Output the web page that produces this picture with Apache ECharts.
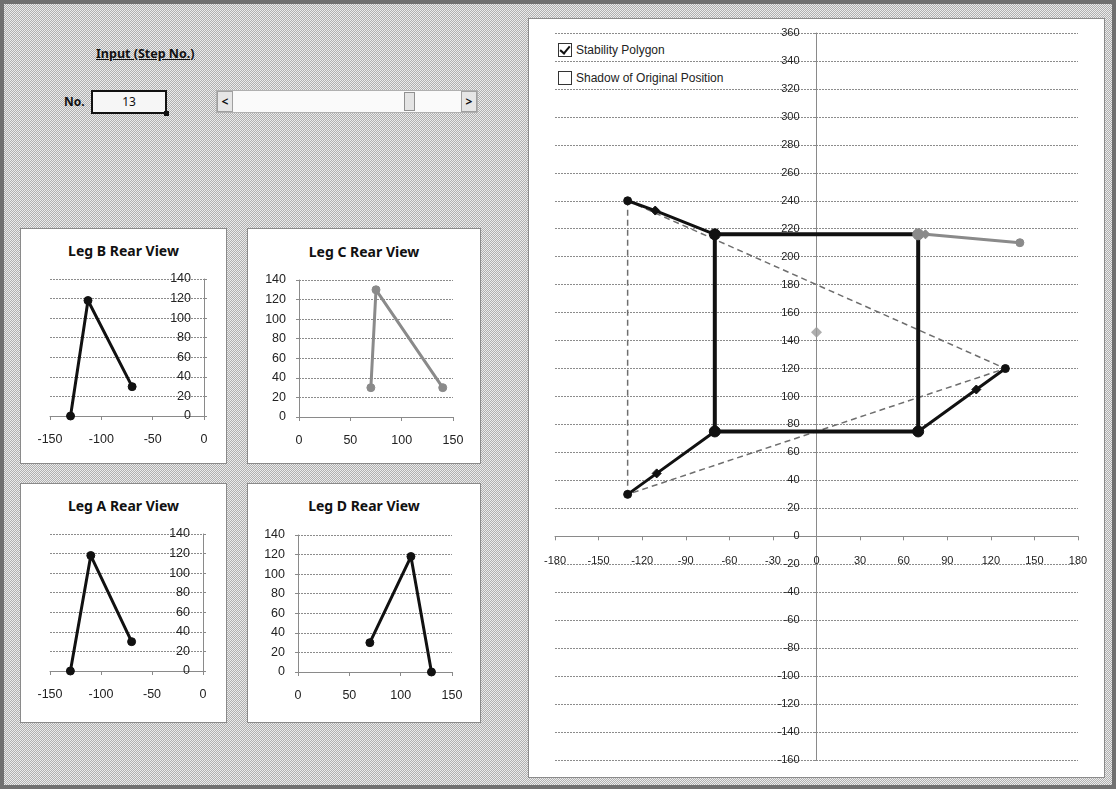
<!DOCTYPE html>
<html>
<head>
<meta charset="utf-8">
<script src="https://cdn.jsdelivr.net/npm/echarts@6/dist/echarts.min.js"></script>
<style>
html,body{margin:0;padding:0;width:1116px;height:789px;overflow:hidden;}
body{position:relative;background:repeating-conic-gradient(#b0b0b0 0 25%,#ebebeb 0 50%) 0 0/2px 2px;font-family:"Noto Sans","Liberation Sans",sans-serif;}
#frame{position:absolute;left:0;top:0;width:1108px;height:781px;border:4px solid #707070;}
.panel{position:absolute;background:#fff;border:1px solid #8a8a8a;box-sizing:border-box;}
.title{position:absolute;text-align:center;font-weight:bold;font-size:14px;color:#111;line-height:18px;}
#hdr{position:absolute;left:96px;top:45px;font-weight:bold;font-size:12.5px;text-decoration:underline;color:#111;}
#no{position:absolute;left:64px;top:93px;font-weight:bold;font-size:12px;color:#111;}
#cell{position:absolute;left:91px;top:90px;width:76px;height:24px;box-sizing:border-box;border:2px solid #111;background:#f6f6f6;text-align:center;font-size:12px;line-height:20px;color:#111;}
#handle{position:absolute;left:164px;top:111px;width:5px;height:5px;background:#111;}
#sb{position:absolute;left:216px;top:90px;width:262px;height:23px;background:#fafafa;border:1px solid #b0b0b0;box-sizing:border-box;}
.sbbtn{position:absolute;top:0;width:16px;height:21px;background:#e6e6e6;border:1px solid #a0a0a0;box-sizing:border-box;font-weight:bold;font-size:12px;line-height:19px;text-align:center;color:#111;}
#thumb{position:absolute;left:187px;top:1px;width:11px;height:19px;background:#e4e4e4;border:1px solid #909090;box-sizing:border-box;}
.cb{position:absolute;left:558px;width:14px;height:14px;border:1px solid #333;background:#fff;box-sizing:border-box;}
.cbl{position:absolute;left:576px;font-family:"Liberation Sans",Arial,sans-serif;font-size:12px;color:#222;line-height:14px;}
#tick{position:absolute;left:3px;top:0px;width:4px;height:8px;border-right:2px solid #111;border-bottom:2px solid #111;transform:rotate(40deg);}
#chart{position:absolute;left:0;top:0;width:1116px;height:789px;}
</style>
</head>
<body>
<div id="frame"></div>
<div class="panel" style="left:20px;top:228px;width:207px;height:236px"></div>
<div class="panel" style="left:247px;top:228px;width:234px;height:236px"></div>
<div class="panel" style="left:20px;top:483px;width:207px;height:240px"></div>
<div class="panel" style="left:247px;top:483px;width:234px;height:240px"></div>
<div class="panel" style="left:528px;top:18px;width:577px;height:760px"></div>

<div class="title" style="left:20px;width:207px;top:242px">Leg B Rear View</div>
<div class="title" style="left:247px;width:234px;top:243px">Leg C Rear View</div>
<div class="title" style="left:20px;width:207px;top:497px">Leg A Rear View</div>
<div class="title" style="left:247px;width:234px;top:497px">Leg D Rear View</div>

<div id="hdr">Input (Step No.)</div>
<div id="no">No.</div>
<div id="cell">13</div>
<div id="handle"></div>
<div id="sb">
  <div class="sbbtn" style="left:0">&lt;</div>
  <div id="thumb"></div>
  <div class="sbbtn" style="right:0">&gt;</div>
</div>

<div class="cb" style="top:43px"><div id="tick"></div></div>
<div class="cbl" style="top:43px">Stability Polygon</div>
<div class="cb" style="top:71px"></div>
<div class="cbl" style="top:71px">Shadow of Original Position</div>

<div id="chart"></div>
<script>
// ---------- Top view (x, y) ----------
const bodyX = [-70, 70, 70, -70, -70];
const bodyY = [216, 216, 75, 75, 216];
const topLegAX = [-70, -110, -130];
const topLegAY = [75, 45, 30];
const topLegBX = [-70, -111, -130];
const topLegBY = [216, 233, 240];
const topLegCX = [70, 75, 140];
const topLegCY = [216, 216, 210];
const topLegDX = [70, 110, 130];
const topLegDY = [75, 105, 120];
const polygonX = [-130, 130, -130, -130];
const polygonY = [240, 120, 30, 240];
const cogX = [0];
const cogY = [146];

// ---------- Rear views (x, z) ----------
const rearAX = [-70, -110, -130];
const rearAZ = [30, 118, 0];
const rearBX = [-70, -113, -130];
const rearBZ = [30, 118, 0];
const rearCX = [70, 75, 140];
const rearCZ = [30, 130, 30];
const rearDX = [70, 110, 130];
const rearDZ = [30, 118, 0];

// ---------- Axis ranges [min, max, interval] ----------
const bigXRange = [-180, 180, 30];
const bigYRange = [-160, 360, 20];
const leftLegXRange = [-150, 0, 50];
const rightLegXRange = [0, 150, 50];
const rearZRange = [0, 140, 20];

const zip = (xs, ys) => xs.map((x, i) => [x, ys[i]]);

const chart = echarts.init(document.getElementById('chart'), null, {renderer: 'canvas'});

const grids = [
  {left: 555, top: 33, width: 523, height: 727},   // big top view
  {left: 50, top: 279, width: 154, height: 137},   // Leg B
  {left: 299, top: 280, width: 154, height: 137},  // Leg C
  {left: 50, top: 534, width: 153, height: 137},   // Leg A
  {left: 298, top: 535, width: 154, height: 137}   // Leg D
].map(g => Object.assign({containLabel: false, outerBoundsMode: 'none', show: false}, g));

// pixel offset that places an axis on the zero of the crossing axis
const zeroOffset = (r, size) => -((0 - r[0]) / (r[1] - r[0])) * size;

const gridLine = {show: true, lineStyle: {color: '#8c8c8c', width: 1, type: [2, 1]}};
const axisLineStyle = {color: '#8a8a8a', width: 1};
const labelFont = 'Liberation Sans, Arial, sans-serif';

function xAxis(gi, r, fs, margin, offset) {
  return {
    type: 'value', gridIndex: gi, min: r[0], max: r[1], interval: r[2],
    position: 'bottom', offset: offset || 0,
    axisLine: {show: true, onZero: false, lineStyle: axisLineStyle},
    axisTick: {show: true, length: 4, lineStyle: axisLineStyle},
    splitLine: {show: false},
    axisLabel: {fontSize: fs, color: '#222', margin: margin, showMinLabel: true, showMaxLabel: true,
      hideOverlap: false, fontFamily: labelFont}
  };
}
function yAxis(gi, r, fs, margin, position, inside, offset) {
  return {
    type: 'value', gridIndex: gi, min: r[0], max: r[1], interval: r[2],
    position: position, offset: offset || 0,
    axisLine: {show: true, onZero: false, lineStyle: axisLineStyle},
    axisTick: {show: true, length: 3, lineStyle: axisLineStyle},
    splitLine: gridLine,
    axisLabel: {fontSize: fs, color: '#222', margin: margin, inside: !!inside, showMinLabel: true, showMaxLabel: true,
      hideOverlap: false, fontFamily: labelFont}
  };
}

const jointSymbols = ['circle', 'diamond', 'circle'];
const jointSizes = [11, 9, 8];

function legTop(xs, ys, color) {
  return {
    type: 'line', xAxisIndex: 0, yAxisIndex: 0, z: 4,
    data: zip(xs, ys).map((p, i) => ({value: p, symbol: jointSymbols[i], symbolSize: jointSizes[i]})),
    lineStyle: {color: color, width: 3},
    itemStyle: {color: color, borderColor: color},
    showSymbol: true, silent: true
  };
}
function legRear(gi, xs, zs, color) {
  return {
    type: 'line', xAxisIndex: gi, yAxisIndex: gi, z: 4,
    data: zip(xs, zs), symbol: 'circle', symbolSize: 8,
    lineStyle: {color: color, width: 3},
    itemStyle: {color: color, borderColor: color},
    silent: true
  };
}

const option = {
  animation: false,
  backgroundColor: 'transparent',
  grid: grids,
  xAxis: [
    xAxis(0, bigXRange, 11, 19, zeroOffset(bigYRange, grids[0].height)),
    xAxis(1, leftLegXRange, 12.5, 17),
    xAxis(2, rightLegXRange, 12.5, 17),
    xAxis(3, leftLegXRange, 12.5, 17),
    xAxis(4, rightLegXRange, 12.5, 17)
  ],
  yAxis: [
    yAxis(0, bigYRange, 11, 17, 'left', false, zeroOffset(bigXRange, grids[0].width)),
    yAxis(1, rearZRange, 12.5, 13, 'right', true),
    yAxis(2, rearZRange, 12.5, 13, 'left', false),
    yAxis(3, rearZRange, 12.5, 13, 'right', true),
    yAxis(4, rearZRange, 12.5, 13, 'left', false)
  ],
  series: [
    {
      type: 'line', xAxisIndex: 0, yAxisIndex: 0, z: 3, symbol: 'none',
      data: zip(polygonX, polygonY),
      lineStyle: {color: '#6e6e6e', width: 1.5, type: [6, 4]}, silent: true
    },
    {
      type: 'line', xAxisIndex: 0, yAxisIndex: 0, z: 3, symbol: 'none',
      data: zip(bodyX, bodyY),
      lineStyle: {color: '#111', width: 4}, silent: true
    },
    legTop(topLegCX, topLegCY, '#8a8a8a'),
    legTop(topLegAX, topLegAY, '#111'),
    legTop(topLegBX, topLegBY, '#111'),
    legTop(topLegDX, topLegDY, '#111'),
    {
      type: 'scatter', xAxisIndex: 0, yAxisIndex: 0, z: 5,
      data: zip(cogX, cogY), symbol: 'diamond', symbolSize: 11,
      itemStyle: {color: '#9a9a9a'}, silent: true
    },
    legRear(1, rearBX, rearBZ, '#111'),
    legRear(2, rearCX, rearCZ, '#8a8a8a'),
    legRear(3, rearAX, rearAZ, '#111'),
    legRear(4, rearDX, rearDZ, '#111')
  ]
};
chart.setOption(option);
</script>
</body>
</html>
